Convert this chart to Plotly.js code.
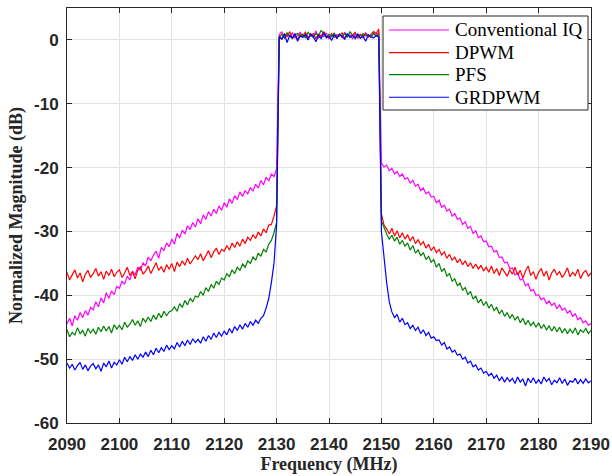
<!DOCTYPE html>
<html>
<head>
<meta charset="utf-8">
<script src="https://cdn.plot.ly/plotly-3.0.1.min.js"></script>
<style>
  html, body { margin: 0; padding: 0; background: #ffffff; }
  #chart { width: 612px; height: 476px; }
</style>
</head>
<body>
<div id="chart"></div>
<script>
// Frequency grid (MHz): 2090 .. 2190 in 0.5 MHz steps
const freqStart = 2090;
const freqStep = 0.5;

const seriesNames = ["Conventional IQ", "DPWM", "PFS", "GRDPWM"];
const xTicks = [2090, 2100, 2110, 2120, 2130, 2140, 2150, 2160, 2170, 2180, 2190];
const yTicks = [0, -10, -20, -30, -40, -50, -60];

// Conventional IQ (dB)
const convIQ = [
  -44.5,-43.6,-44.8,-43.2,-43.9,-42.7,-43.5,-42.4,-43.1,-41.9,
  -42.3,-41.0,-41.8,-40.4,-41.2,-39.6,-40.5,-39.3,-39.9,-38.6,
  -38.9,-37.8,-38.2,-37.0,-37.6,-36.2,-36.8,-35.6,-36.1,-34.9,
  -35.4,-34.0,-34.6,-33.7,-33.1,-34.2,-32.5,-33.0,-31.8,-32.4,
  -31.2,-32.0,-30.3,-31.0,-29.8,-30.4,-29.1,-29.7,-28.6,-29.3,
  -28.0,-28.8,-27.4,-28.1,-26.9,-27.6,-26.5,-27.2,-26.0,-26.7,
  -25.5,-26.2,-24.9,-25.6,-24.4,-25.0,-23.8,-24.5,-23.6,-24.1,
  -23.1,-23.7,-22.6,-23.2,-22.0,-22.7,-21.5,-22.1,-21.0,-21.4,
  -20.2,
  0.8,1.3,0.2,0.9,0.5,1.1,0.3,0.7,1.2,0.4,
  0.9,0.1,1.0,0.6,1.4,0.3,0.8,0.5,1.1,0.2,
  0.7,1.0,0.4,0.9,0.3,1.2,0.6,0.8,0.2,1.0,
  0.5,0.9,0.3,1.1,0.6,0.4,0.9,0.7,1.2,
  -19.3,-19.9,-19.6,-20.5,-20.1,-21.0,-20.6,-21.4,-21.0,-21.8,
  -21.6,-22.4,-22.0,-22.9,-22.6,-23.6,-23.2,-24.1,-23.8,-24.6,
  -24.5,-25.5,-25.1,-26.2,-25.9,-26.8,-26.5,-27.6,-27.2,-28.1,
  -27.9,-28.9,-28.5,-29.5,-29.2,-30.3,-29.9,-31.0,-30.7,-31.6,
  -31.5,-32.4,-32.3,-33.2,-33.0,-34.1,-34.0,-34.9,-34.8,-35.8,
  -35.7,-36.8,-36.5,-37.6,-37.4,-38.5,-38.2,-39.3,-39.1,-40.0,
  -39.9,-40.7,-40.4,-41.3,-40.9,-41.6,-41.2,-42.1,-41.5,-42.3,
  -42.0,-42.8,-42.4,-43.3,-42.9,-43.8,-43.5,-44.3,-44.0,-44.7,
  -44.4
];

// DPWM (dB)
const dpwm = [
  -36.4,-37.6,-36.8,-36.0,-37.3,-36.5,-37.9,-36.7,-36.1,-37.2,
  -36.6,-35.8,-37.0,-36.3,-37.5,-36.2,-36.9,-35.9,-37.1,-36.4,
  -36.0,-37.2,-36.5,-35.6,-36.9,-36.3,-37.4,-36.1,-35.5,-36.7,
  -36.2,-35.4,-36.6,-35.8,-34.9,-36.1,-35.5,-36.4,-35.2,-35.9,
  -35.0,-36.3,-34.8,-35.5,-34.6,-35.3,-34.2,-35.1,-34.5,-33.8,
  -34.4,-33.5,-34.6,-33.8,-33.0,-34.1,-33.2,-32.6,-33.6,-32.8,
  -33.1,-32.2,-32.9,-31.8,-32.5,-31.6,-32.3,-31.2,-31.9,-30.9,
  -31.4,-30.5,-31.1,-30.1,-30.7,-29.6,-30.2,-29.0,-28.9,-27.6,
  -26.0,
  0.6,0.2,1.0,0.5,1.3,0.3,0.8,0.1,0.9,0.6,
  1.2,0.4,0.7,1.0,0.2,0.9,0.5,1.3,0.6,0.3,
  1.0,0.4,0.8,0.6,1.1,0.2,0.9,0.5,0.7,1.2,
  0.3,0.8,0.6,1.0,0.4,0.9,1.3,1.0,1.7,
  -27.2,-29.0,-29.6,-30.4,-29.5,-30.7,-29.9,-31.0,-30.2,-31.2,
  -30.5,-31.5,-30.8,-31.9,-31.3,-32.1,-31.6,-32.6,-32.0,-33.0,
  -32.4,-33.3,-32.8,-33.7,-33.2,-34.2,-33.6,-34.5,-34.0,-34.9,
  -34.3,-35.2,-34.6,-35.5,-34.9,-35.8,-35.1,-35.9,-35.3,-36.2,
  -35.6,-36.4,-35.4,-36.6,-35.8,-36.9,-35.7,-36.3,-37.0,-36.0,
  -36.7,-35.6,-36.8,-36.1,-37.3,-36.2,-35.4,-36.9,-36.3,-37.5,
  -36.4,-35.8,-37.0,-36.2,-37.6,-36.5,-35.9,-36.8,-36.3,-37.2,
  -36.6,-35.7,-37.1,-36.4,-36.9,-35.9,-37.4,-36.5,-36.1,-37.0,
  -36.5
];

// PFS (dB)
const pfs = [
  -45.4,-46.5,-45.8,-46.2,-45.1,-46.0,-45.5,-46.4,-45.2,-45.9,
  -45.3,-46.1,-45.0,-45.7,-44.8,-45.6,-44.9,-45.9,-44.6,-45.3,
  -44.7,-45.4,-44.2,-45.0,-44.5,-43.8,-44.7,-44.0,-44.9,-43.6,
  -44.2,-43.4,-44.1,-43.1,-43.8,-42.8,-43.5,-42.5,-43.2,-42.6,
  -42.4,-41.8,-42.5,-41.3,-41.9,-40.8,-41.5,-40.5,-41.0,-40.1,
  -40.3,-39.4,-40.0,-38.8,-39.4,-38.3,-38.9,-37.8,-38.3,-37.3,
  -37.6,-36.6,-37.1,-36.0,-36.6,-35.6,-36.1,-35.1,-35.6,-34.6,
  -35.0,-34.0,-34.5,-33.4,-33.9,-32.8,-33.2,-32.0,-31.4,-30.2,
  -28.6,
  0.4,0.9,0.3,1.1,0.6,0.2,0.8,1.0,0.5,0.9,
  0.3,1.2,0.7,0.4,1.0,0.6,1.5,0.8,0.3,0.9,
  0.5,1.1,0.2,0.8,0.6,1.0,0.4,1.3,0.7,0.5,
  0.9,0.2,1.0,0.6,0.8,0.4,1.1,0.6,0.9,
  -28.3,-29.5,-30.4,-31.2,-30.6,-31.5,-30.9,-32.0,-31.4,-32.3,
  -31.8,-32.9,-32.2,-33.4,-32.9,-33.8,-33.3,-34.4,-33.9,-34.8,
  -34.4,-35.6,-35.0,-36.3,-35.8,-37.0,-36.6,-37.8,-37.4,-38.5,
  -38.1,-39.2,-38.8,-39.9,-39.4,-40.6,-40.1,-41.2,-40.6,-41.6,
  -41.0,-42.0,-41.4,-42.4,-41.9,-42.9,-42.3,-43.3,-42.7,-43.6,
  -43.0,-43.9,-43.3,-44.3,-43.6,-44.6,-43.9,-44.8,-44.2,-45.0,
  -44.3,-45.2,-44.6,-45.4,-44.8,-45.6,-44.9,-45.7,-45.0,-45.9,
  -45.2,-46.0,-45.3,-45.9,-45.1,-46.2,-45.4,-45.8,-45.2,-46.0,
  -45.5
];

// GRDPWM (dB)
const grdpwm = [
  -50.6,-51.4,-50.8,-51.7,-51.0,-50.5,-51.6,-50.9,-51.8,-51.1,
  -50.7,-51.5,-50.9,-51.9,-50.6,-51.2,-50.3,-51.4,-50.5,-50.9,
  -50.1,-50.8,-49.7,-50.4,-49.6,-50.2,-49.3,-50.0,-49.2,-49.7,
  -48.9,-49.6,-48.6,-49.3,-48.3,-49.0,-48.2,-48.8,-47.8,-48.5,
  -47.9,-48.4,-47.4,-48.1,-47.2,-47.9,-47.0,-47.7,-46.8,-47.4,
  -46.9,-47.5,-46.5,-47.2,-46.3,-46.9,-45.9,-46.6,-45.8,-46.4,
  -45.6,-46.2,-45.2,-45.9,-44.9,-45.5,-44.6,-45.3,-44.4,-45.0,
  -44.1,-44.7,-43.9,-44.4,-43.6,-43.2,-42.0,-40.5,-38.0,-35.0,
  -29.0,
  0.5,0.1,0.9,-0.4,0.7,0.3,1.0,-0.2,0.6,0.4,
  0.8,0.0,0.9,0.5,-0.3,0.7,0.2,1.1,0.4,0.6,
  -0.1,0.8,0.3,0.9,0.5,0.1,1.0,0.4,0.7,0.2,
  0.9,0.3,0.6,-0.2,0.8,0.5,0.3,0.7,0.4,
  -30.0,-34.2,-38.0,-41.0,-42.6,-43.5,-43.0,-44.2,-43.6,-44.6,
  -44.3,-45.2,-44.7,-45.5,-45.0,-46.0,-45.4,-46.3,-45.8,-46.7,
  -46.5,-47.1,-47.0,-47.8,-47.4,-48.4,-48.1,-48.9,-48.6,-49.4,
  -49.2,-50.0,-49.7,-50.6,-50.3,-51.2,-50.9,-51.7,-51.4,-52.2,
  -51.9,-52.6,-52.2,-53.0,-52.5,-53.4,-52.8,-53.6,-52.9,-53.5,
  -53.0,-53.8,-52.8,-53.6,-53.1,-54.2,-53.0,-53.7,-52.9,-53.8,
  -53.2,-53.9,-52.8,-53.5,-53.0,-54.0,-53.3,-53.7,-52.9,-53.8,
  -53.1,-54.1,-53.4,-53.6,-53.0,-53.9,-53.2,-53.8,-53.1,-53.7,
  -53.4
];

const seriesData = [convIQ, dpwm, pfs, grdpwm];
const seriesColors = ["#ff00ff", "#ff0000", "#008000", "#0000ff"];

const freq = convIQ.map((_, i) => freqStart + i * freqStep);

const traces = seriesData.map((ys, k) => ({
  x: freq,
  y: ys,
  type: "scatter",
  mode: "lines",
  name: seriesNames[k],
  showlegend: false,
  line: { color: seriesColors[k], width: 1.2 }
}));

const tickFont = { family: "Liberation Sans, Arial, sans-serif", size: 17, color: "#262626", weight: "bold" };
const titleFont = { family: "Liberation Serif, Times New Roman, serif", size: 18, color: "#262626", weight: "bold" };
const legendFont = { family: "Liberation Serif, Times New Roman, serif", size: 19, color: "#000000" };

const axisCommon = {
  showline: true,
  linecolor: "#262626",
  linewidth: 1,
  mirror: "ticks",
  ticks: "inside",
  ticklen: 5,
  tickcolor: "#262626",
  showgrid: true,
  gridcolor: "#e3e3e3",
  gridwidth: 1,
  zeroline: false,
  tickfont: tickFont
};

// Legend box drawn in paper coordinates (layout only)
const legendBox = { x0: 0.6031, x1: 0.9943, y0: 0.7542, y1: 0.9807 };
const legendLineX = [0.6145, 0.7290];
const legendTextX = 0.7366;
const legendRowsY = [0.9470, 0.8925, 0.8395, 0.7850];

const shapes = [{
  type: "rect", xref: "paper", yref: "paper",
  x0: legendBox.x0, x1: legendBox.x1, y0: legendBox.y0, y1: legendBox.y1,
  fillcolor: "#ffffff", line: { color: "#262626", width: 1 }, layer: "above"
}];
const annotations = [];
seriesNames.forEach((name, k) => {
  shapes.push({
    type: "line", xref: "paper", yref: "paper",
    x0: legendLineX[0], x1: legendLineX[1], y0: legendRowsY[k], y1: legendRowsY[k],
    line: { color: seriesColors[k], width: 1.2 }, layer: "above"
  });
  annotations.push({
    xref: "paper", yref: "paper", x: legendTextX, y: legendRowsY[k],
    xanchor: "left", yanchor: "middle", showarrow: false,
    text: name, font: legendFont
  });
});

const layout = {
  width: 612,
  height: 476,
  margin: { l: 67, r: 21, t: 8, b: 53 },
  paper_bgcolor: "#ffffff",
  plot_bgcolor: "#ffffff",
  showlegend: false,
  xaxis: Object.assign({}, axisCommon, {
    range: [2090, 2190],
    tickvals: xTicks,
    ticktext: xTicks.map(String),
    ticklabelstandoff: 6,
    title: { text: "Frequency (MHz)", font: titleFont, standoff: 2 }
  }),
  yaxis: Object.assign({}, axisCommon, {
    range: [-60, 5],
    tickvals: yTicks,
    ticktext: yTicks.map(String),
    ticklabelstandoff: 4,
    title: { text: "Normalized Magnitude (dB)", font: titleFont, standoff: 6 }
  }),
  shapes: shapes,
  annotations: annotations
};

Plotly.newPlot("chart", traces, layout, { staticPlot: true, displayModeBar: false });
</script>
</body>
</html>
